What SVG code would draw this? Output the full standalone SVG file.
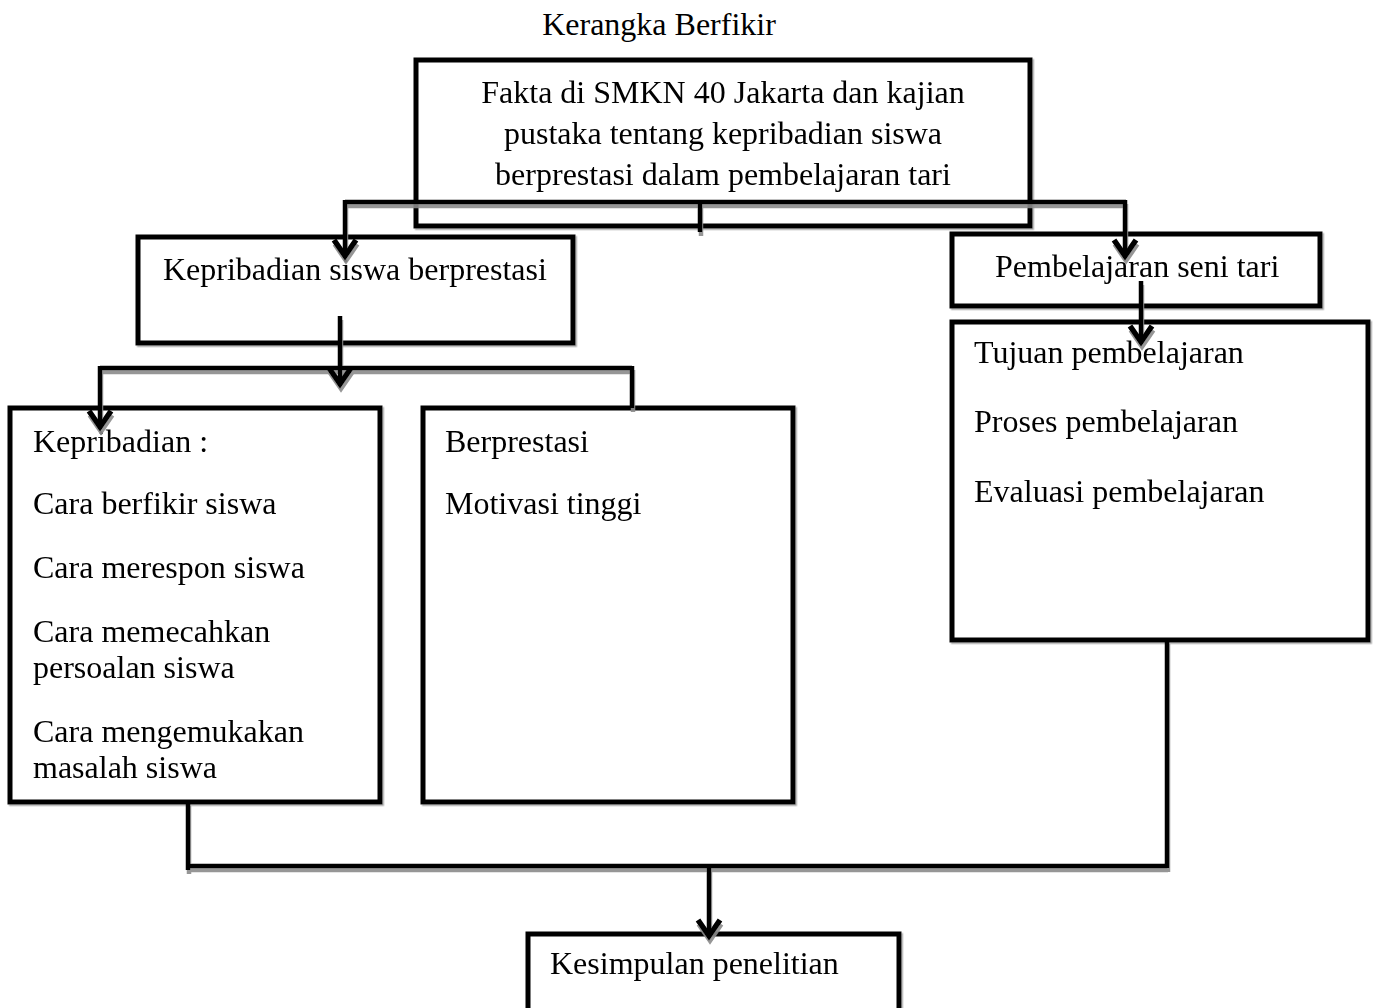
<svg xmlns="http://www.w3.org/2000/svg" width="1379" height="1008" viewBox="0 0 1379 1008">
  <defs>
    <style>
      text { font-family: "Liberation Serif", "Times New Roman", serif; font-size: 32px; fill: #000; }
      .box { fill: #fff; stroke: #000; stroke-width: 5; }
      .conn { fill: none; stroke: #000; stroke-width: 4.5; stroke-linejoin: miter; }
      .mid { text-anchor: middle; }
    </style>
    <filter id="shadow" x="-5%" y="-5%" width="110%" height="115%">
      <feDropShadow dx="1" dy="4" stdDeviation="0.3" flood-color="#8a8a8a" flood-opacity="0.9"/>
    </filter>
    <filter id="bshadow" x="-5%" y="-5%" width="110%" height="110%">
      <feDropShadow dx="1.5" dy="1.5" stdDeviation="0.3" flood-color="#888" flood-opacity="0.7"/>
    </filter>
    <marker id="arrow" markerUnits="userSpaceOnUse" markerWidth="40" markerHeight="40" refX="0" refY="0" orient="auto" viewBox="-20 -20 40 40" overflow="visible">
      <path d="M -17 -11 L -1 0 L -17 11" fill="none" stroke="#000" stroke-width="5.5"/>
    </marker>
  </defs>
  <rect width="1379" height="1008" fill="#fff"/>

  <text id="title" x="659" y="35" class="mid">Kerangka Berfikir</text>

  <g id="nodes" filter="url(#bshadow)">
    <g id="n-fakta">
      <rect class="box" x="416" y="60" width="614" height="166"/>
      <text x="723" y="103" class="mid">Fakta di SMKN 40 Jakarta dan kajian</text>
      <text x="723" y="144" class="mid">pustaka tentang kepribadian siswa</text>
      <text x="723" y="185" class="mid">berprestasi dalam pembelajaran tari</text>
    </g>
    <g id="n-kepsiswa">
      <rect class="box" x="138" y="237" width="435" height="106"/>
      <text x="163" y="280">Kepribadian siswa berprestasi</text>
    </g>
    <g id="n-pembelajaran">
      <rect class="box" x="952" y="234" width="368" height="72"/>
      <text x="995" y="277">Pembelajaran seni tari</text>
    </g>
    <g id="n-tujuan">
      <rect class="box" x="952" y="322" width="416" height="318"/>
      <text x="974" y="363">Tujuan pembelajaran</text>
      <text x="974" y="432">Proses pembelajaran</text>
      <text x="974" y="502">Evaluasi pembelajaran</text>
    </g>
    <g id="n-kepribadian">
      <rect class="box" x="10" y="408" width="370" height="394"/>
      <text x="33" y="452">Kepribadian :</text>
      <text x="33" y="514">Cara berfikir siswa</text>
      <text x="33" y="578">Cara merespon siswa</text>
      <text x="33" y="642">Cara memecahkan</text>
      <text x="33" y="678">persoalan siswa</text>
      <text x="33" y="742">Cara mengemukakan</text>
      <text x="33" y="778">masalah siswa</text>
    </g>
    <g id="n-berprestasi">
      <rect class="box" x="423" y="408" width="370" height="394"/>
      <text x="445" y="452">Berprestasi</text>
      <text x="445" y="514">Motivasi tinggi</text>
    </g>
    <g id="n-kesimpulan">
      <rect class="box" x="528" y="934" width="371" height="100"/>
      <text x="550" y="974">Kesimpulan penelitian</text>
    </g>
  </g>

  <g id="connectors" filter="url(#shadow)">
    <path class="conn" d="M 345 202 L 1126 202"/>
    <path class="conn" d="M 345 200 L 345 257" marker-end="url(#arrow)"/>
    <path class="conn" d="M 1125 200 L 1125 257" marker-end="url(#arrow)"/>
    <path class="conn" d="M 700 200 L 700 232"/>

    <path class="conn" d="M 340 316 L 340 385" marker-end="url(#arrow)"/>
    <path class="conn" d="M 100 368 L 632 368"/>
    <path class="conn" d="M 100 366 L 100 428" marker-end="url(#arrow)"/>
    <path class="conn" d="M 632 366 L 632 408"/>

    <path class="conn" d="M 1141 281 L 1141 343" marker-end="url(#arrow)"/>

    <path class="conn" d="M 188 802 L 188 870"/>
    <path class="conn" d="M 188 866 L 1167 866"/>
    <path class="conn" d="M 1167 640 L 1167 868"/>
    <path class="conn" d="M 709 866 L 709 937" marker-end="url(#arrow)"/>
  </g>
</svg>
